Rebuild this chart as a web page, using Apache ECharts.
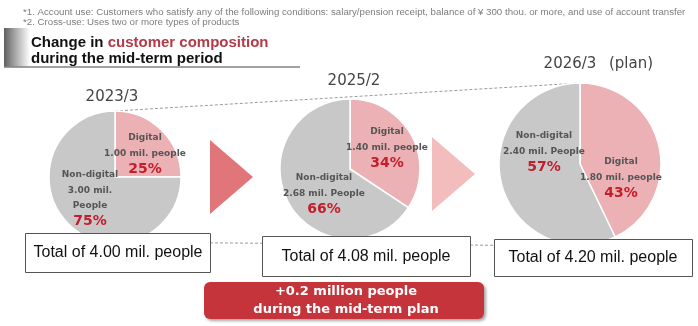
<!DOCTYPE html>
<html><head><meta charset="utf-8">
<script src="https://cdn.jsdelivr.net/npm/echarts@6/dist/echarts.min.js"></script>
<style>html,body{margin:0;padding:0;background:#fff}#c{width:698px;height:326px}</style>
</head><body><div id="c"></div>
<script>
// ---- data ----
const periods = ['2023/3', '2025/2', '2026/3'];
const periodNotes = ['', '', '(plan)'];
const digital = [1.00, 1.40, 1.80];
const nonDigital = [3.00, 2.68, 2.40];
const digitalPct = ['25%', '34%', '43%'];
const nonDigitalPct = ['75%', '66%', '57%'];
const totals = ['4.00', '4.08', '4.20'];
const digitalLines = [['Digital', '1.00 mil. people'], ['Digital', '1.40 mil. people'], ['Digital', '1.80 mil. people']];
const nonDigitalLines = [['Non-digital', '3.00 mil.', 'People'], ['Non-digital', '2.68 mil. People'], ['Non-digital', '2.40 mil. People']];
const footnotes = [
  '*1. Account use: Customers who satisfy any of the following conditions: salary/pension receipt, balance of \u00a5 300 thou. or more, and use of account transfer',
  '*2. Cross-use: Uses two or more types of products'
];
const increaseLines = ['+0.2 million people', 'during the mid-term plan'];

// ---- layout ----
const pieGeo = [
  {c: [115, 177], r: 66},
  {c: [350, 169], r: 70},
  {c: [580, 164], r: 81}
];
const digitalLabelPos = [[145, 138], [387, 132], [621, 162]];
const nonDigitalLabelPos = [[90, 175], [324, 178], [544, 136]];
const yearPos = [[112, 97], [354, 81], [570, 64]];
const boxes = [
  {x: 25, y: 233, w: 185, h: 39, tx: 118, ty: 253},
  {x: 262, y: 236, w: 208, h: 40, tx: 366, ty: 257},
  {x: 494, y: 239, w: 198, h: 37, tx: 593, ty: 258}
];
const COL_DIG = '#EBB1B4', COL_NON = '#C8C8C8';
const LBL = 'bold 9px "DejaVu Sans"';
const PCT = 'bold 14px "DejaVu Sans"';

function txt(x, y, text, font, fill, z, align) {
  return {type: 'text', x: x, y: y, z: z || 10, silent: true,
    style: {text: text, font: font, fill: fill,
      textAlign: align || 'center', align: align || 'center',
      textVerticalAlign: 'middle', verticalAlign: 'middle'}};
}

const series = periods.map((p, i) => ({
  type: 'pie', center: pieGeo[i].c, radius: pieGeo[i].r,
  startAngle: 90, clockwise: true, animation: false, silent: true,
  label: {show: false}, labelLine: {show: false},
  itemStyle: {borderColor: '#fff', borderWidth: 1.5},
  data: [
    {name: 'Digital', value: digital[i], itemStyle: {color: COL_DIG}},
    {name: 'Non-digital', value: nonDigital[i], itemStyle: {color: COL_NON}}
  ]
}));

const g = [];
// footnotes
footnotes.forEach((t, i) => g.push(txt(23, 12 + i * 10, t, '9.7px "Liberation Sans"', '#7d7d7d', 10, 'left')));
// title decoration
g.push({type: 'rect', z: 5, shape: {x: 4, y: 28, width: 26, height: 39},
  style: {fill: new echarts.graphic.LinearGradient(0, 0, 1, 0, [
    {offset: 0, color: '#5e5e5e'}, {offset: 0.35, color: '#9a9a9a'}, {offset: 1, color: '#ffffff'}])}});
g.push({type: 'line', z: 5, shape: {x1: 4, y1: 67, x2: 300, y2: 67}, style: {stroke: '#808080', lineWidth: 1.5}});
g.push({type: 'text', x: 31, y: 43, z: 10, style: {
  text: '{a|Change in }{b|customer composition}', font: 'bold 13px "Liberation Sans"',
  textVerticalAlign: 'middle', verticalAlign: 'middle',
  rich: {a: {font: 'bold 15px "Liberation Sans"', fill: '#111', color: '#111'},
         b: {font: 'bold 15px "Liberation Sans"', fill: '#B33A48', color: '#B33A48'}}}});
g.push(txt(31, 59, 'during the mid-term period', 'bold 15px "Liberation Sans"', '#111', 10, 'left'));
// dashed connector lines
g.push({type: 'line', z: 0, shape: {x1: pieGeo[0].c[0], y1: pieGeo[0].c[1] - pieGeo[0].r, x2: pieGeo[2].c[0], y2: pieGeo[2].c[1] - pieGeo[2].r},
  style: {stroke: '#9a9a9a', lineWidth: 1, lineDash: [3, 2]}});
g.push({type: 'line', z: 0, shape: {x1: pieGeo[0].c[0], y1: 242, x2: pieGeo[2].c[0], y2: 246},
  style: {stroke: '#9a9a9a', lineWidth: 1, lineDash: [3, 2]}});
// arrows
g.push({type: 'polygon', z: 5, shape: {points: [[210, 140], [253, 177], [210, 214]]}, style: {fill: '#E0767A'}});
g.push({type: 'polygon', z: 5, shape: {points: [[432, 137], [475, 174], [432, 211]]}, style: {fill: '#F3BCBD'}});
// years
periods.forEach((p, i) => {
  g.push(txt(yearPos[i][0], yearPos[i][1], p, '15px "DejaVu Sans"', '#444'));
  if (periodNotes[i]) g.push(txt(yearPos[i][0] + 61, yearPos[i][1], periodNotes[i], '15px "DejaVu Sans"', '#444'));
});
// pie labels
periods.forEach((p, i) => {
  const dp = digitalLabelPos[i];
  digitalLines[i].forEach((l, k) => g.push(txt(dp[0], dp[1] + k * 15.5, l, LBL, '#555')));
  g.push(txt(dp[0], dp[1] + digitalLines[i].length * 15.5, digitalPct[i], PCT, '#C41E2B'));
  const np = nonDigitalLabelPos[i];
  nonDigitalLines[i].forEach((l, k) => g.push(txt(np[0], np[1] + k * 15.5, l, LBL, '#555')));
  g.push(txt(np[0], np[1] + nonDigitalLines[i].length * 15.5, nonDigitalPct[i], PCT, '#C41E2B'));
});
// total boxes
boxes.forEach((b, i) => {
  g.push({type: 'rect', z: 20, shape: {x: b.x + 0.5, y: b.y + 0.5, width: b.w, height: b.h},
    style: {fill: '#fff', stroke: '#555', lineWidth: 1}});
  g.push(txt(b.tx, b.ty, 'Total of ' + totals[i] + ' mil. people', '16px "Liberation Sans"', '#111', 21));
});
// increase box
g.push({type: 'rect', z: 20, shape: {x: 204, y: 282, width: 280, height: 37, r: 6},
  style: {fill: '#C5343B', shadowBlur: 3, shadowOffsetX: 2, shadowOffsetY: 2, shadowColor: 'rgba(0,0,0,0.35)'}});
increaseLines.forEach((l, k) => g.push(txt(346, 292 + k * 18, l, 'bold 13px "DejaVu Sans"', '#fff', 21)));

const chart = echarts.init(document.getElementById('c'), null, {renderer: 'canvas'});
chart.setOption({animation: false, series: series, graphic: {elements: g}});
</script></body></html>
